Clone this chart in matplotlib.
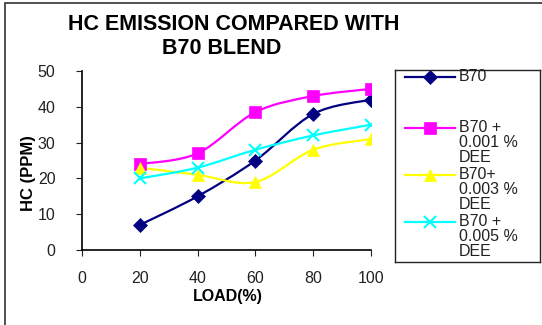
import numpy as np
import matplotlib.pyplot as plt
from matplotlib.path import Path
from matplotlib.patches import PathPatch, Rectangle
from matplotlib.lines import Line2D

plt.rcParams['font.family'] = ['Liberation Sans', 'DejaVu Sans']

load = [20, 40, 60, 80, 100]
b70 = [7, 15, 25, 38, 42]
dee_001 = [24, 27, 38.5, 43, 45]
dee_003 = [23, 21, 19, 28, 31]
dee_005 = [20, 23, 28, 32, 35]

labels = ['B70', 'B70 +\n0.001 %\nDEE', 'B70+\n0.003 %\nDEE', 'B70 +\n0.005 %\nDEE']
colors = ['#000080', '#FF00FF', '#FFFF00', '#00FFFF']
markers = ['D', 's', '^', 'x']
msizes = [7, 9, 9, 9]


def smooth_path(x, y):
    # excel style smoothed line: bezier segments through the points
    pts = np.column_stack([x, y]).astype(float)
    n = len(pts)
    verts = [pts[0]]
    codes = [Path.MOVETO]
    for i in range(n - 1):
        p0 = pts[max(i - 1, 0)]
        p1 = pts[i]
        p2 = pts[i + 1]
        p3 = pts[min(i + 2, n - 1)]
        c1 = p1 + (p2 - p0) / 6
        c2 = p2 - (p3 - p1) / 6
        verts += [c1, c2, p2]
        codes += [Path.CURVE4] * 3
    return Path(verts, codes)


fig = plt.figure(figsize=(5.42, 3.25), dpi=100)
W, H = 542, 325

# outer frame
fig.patches.append(Rectangle((5 / W, -0.1), 1.1, 1 - 3 / H + 0.1, transform=fig.transFigure,
                             fill=False, edgecolor='#333333', linewidth=1.2))

ax = fig.add_axes([82 / W, 1 - 250 / H, 289 / W, 179 / H])
series = [b70, dee_001, dee_003, dee_005]
for vals, c, m, ms in zip(series, colors, markers, msizes):
    ax.add_patch(PathPatch(smooth_path(load, vals), facecolor='none', edgecolor=c, lw=1.6, zorder=2))
    ax.plot(load, vals, linestyle='none', marker=m, color=c, markersize=ms,
            markeredgewidth=1.5 if m == 'x' else 0.5, zorder=3)

ax.set_xlim(0, 100)
ax.set_ylim(0, 50)
ax.set_xticks(range(0, 101, 20))
ax.set_yticks(range(0, 51, 10))
for s in ['top', 'right']:
    ax.spines[s].set_visible(False)
for s in ['left', 'bottom']:
    ax.spines[s].set_linewidth(1.2)
ax.tick_params(axis='x', direction='out', length=4, pad=11, labelsize=11.5, colors='#222222')
ax.tick_params(axis='y', direction='out', length=4, pad=15, labelsize=11.5, colors='#222222')

fig.text(234 / W, 1 - 25 / H, 'HC EMISSION COMPARED WITH', ha='center', va='center',
         fontsize=15.5, fontweight='bold')
fig.text(222 / W, 1 - 49 / H, 'B70 BLEND', ha='center', va='center',
         fontsize=15.5, fontweight='bold')
fig.text(28 / W, 1 - 173 / H, 'HC (PPM)', rotation=90, ha='center', va='center',
         fontsize=12, fontweight='bold')
fig.text(228 / W, 1 - 297 / H, 'LOAD(%)', ha='center', va='center',
         fontsize=11.5, fontweight='bold')

# legend box drawn by hand (excel style, text wraps below the handle)
lax = fig.add_axes([395 / W, 1 - 262 / H, 145 / W, 192 / H])
lax.set_xlim(0, 145)
lax.set_ylim(192, 0)
lax.set_xticks([])
lax.set_yticks([])
for s in lax.spines.values():
    s.set_linewidth(1.0)
    s.set_color('#222222')
rows = [7, 58, 105, 152]
for yy, lab, c, m, ms in zip(rows, labels, colors, markers, msizes):
    lax.add_line(Line2D([10, 60], [yy, yy], color=c, lw=1.6))
    lax.plot([35], [yy], marker=m, color=c, markersize=ms,
             markeredgewidth=1.5 if m == 'x' else 0.5)
    lax.text(64, yy - 8, lab, ha='left', va='top', fontsize=11.5, color='#222222',
             linespacing=1.02)

fig.savefig('out.png', dpi=100)
